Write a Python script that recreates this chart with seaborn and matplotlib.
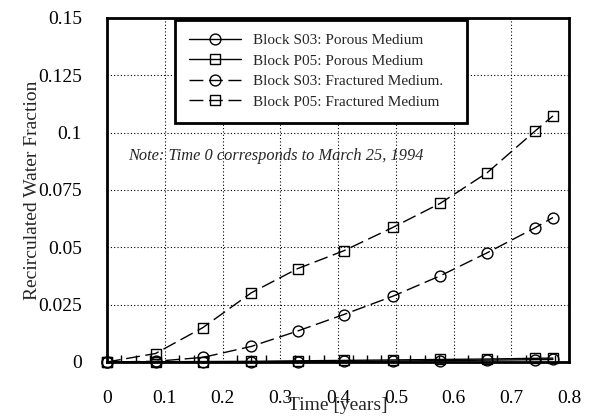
import numpy as np
import pandas as pd
import matplotlib
matplotlib.use("Agg")
import matplotlib.pyplot as plt
from matplotlib.ticker import MultipleLocator
import seaborn as sns

# Data
time_years = [0, 0.084, 0.166, 0.25, 0.33, 0.41, 0.495, 0.577, 0.658, 0.741, 0.772]
s03_porous = [0, 0, 0, 0.0001, 0.0002, 0.0003, 0.0004, 0.0006, 0.0008, 0.0010, 0.0011]
p05_porous = [0, 0.0001, 0.0002, 0.0003, 0.0005, 0.0007, 0.0009, 0.0011, 0.0013, 0.0016, 0.0017]
s03_fractured = [0, 0.0003, 0.0020, 0.0068, 0.0135, 0.0207, 0.0287, 0.0376, 0.0476, 0.0585, 0.0630]
p05_fractured = [0, 0.0037, 0.0150, 0.0302, 0.0407, 0.0485, 0.0587, 0.0692, 0.0825, 0.1007, 0.1073]

series_labels = ["Block S03: Porous Medium", "Block P05: Porous Medium",
                 "Block S03: Fractured Medium.", "Block P05: Fractured Medium"]
x_ticks = [0, 0.1, 0.2, 0.3, 0.4, 0.5, 0.6, 0.7, 0.8]
x_tick_labels = ["0", "0.1", "0.2", "0.3", "0.4", "0.5", "0.6", "0.7", "0.8"]
y_ticks = [0, 0.025, 0.05, 0.075, 0.1, 0.125, 0.15]
y_tick_labels = ["0", "0.025", "0.05", "0.075", "0.1", "0.125", "0.15"]

sns.set_style("white")
plt.rcParams["font.family"] = ["Liberation Serif", "DejaVu Serif"]

fig, ax = plt.subplots(figsize=(6.01, 4.18), dpi=100)
fig.subplots_adjust(left=0.178, right=0.947, top=0.957, bottom=0.134)

values = [s03_porous, p05_porous, s03_fractured, p05_fractured]
markers = ["o", "s", "o", "s"]
styles = ["-", "-", (0, (10, 4)), (0, (10, 4))]

for vals, lab, mk, ls in zip(values, series_labels, markers, styles):
    df = pd.DataFrame({"time": time_years, "frac": vals})
    sns.lineplot(data=df, x="time", y="frac", ax=ax, label=lab, color="black",
                 linestyle=ls, linewidth=1.0, marker=mk, markersize=7.8,
                 markerfacecolor="none", markeredgecolor="black",
                 markeredgewidth=1.0, clip_on=False, zorder=3)

ax.set_xlim(0, 0.8)
ax.set_ylim(0, 0.15)
ax.set_xticks(x_ticks)
ax.set_xticklabels(x_tick_labels)
ax.set_yticks(y_ticks)
ax.set_yticklabels(y_tick_labels)
ax.xaxis.set_minor_locator(MultipleLocator(0.025))
ax.tick_params(axis="both", which="major", direction="in", length=0,
               labelsize=14, colors="black")
ax.tick_params(axis="x", which="major", pad=20)
ax.tick_params(axis="y", which="major", pad=18)
ax.tick_params(axis="x", which="minor", direction="in", length=5, width=1,
               bottom=True, color="black")

ax.grid(True, which="major", linestyle=(0, (1, 2)), color="black", linewidth=0.8)
for sp in ax.spines.values():
    sp.set_visible(True)
    sp.set_color("black")
    sp.set_linewidth(2)

ax.set_xlabel("Time [years]", fontsize=14, labelpad=-7)
ax.set_ylabel("Recirculated Water Fraction", fontsize=14, labelpad=-2)

# note text, italic, inside the plot
ax.text(0.036, 0.090, "Note: Time 0 corresponds to March 25, 1994",
        fontsize=11.8, style="italic", ha="left", va="center", zorder=4)

leg = ax.legend(loc="upper left", bbox_to_anchor=(0.147, 0.0, 0.632, 0.995),
                mode="expand", borderaxespad=0, fontsize=11, frameon=True,
                fancybox=False, handlelength=3.4, handletextpad=0.8,
                labelspacing=0.45, borderpad=0.9, framealpha=1,
                edgecolor="black")
leg.get_frame().set_linewidth(2)
leg.set_zorder(5)

fig.savefig("out.png", dpi=100)
